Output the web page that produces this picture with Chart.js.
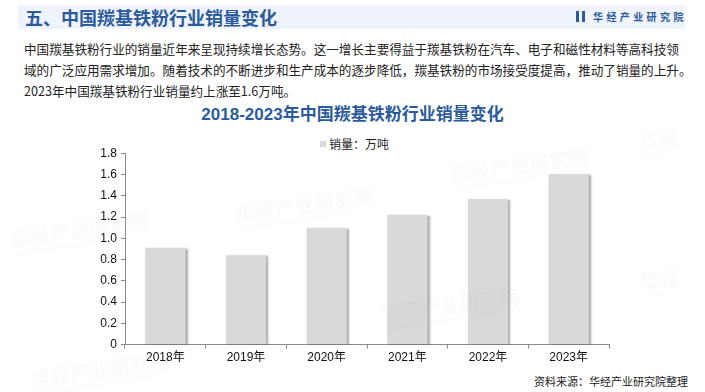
<!DOCTYPE html>
<html>
<head>
<meta charset="utf-8">
<script src="https://cdn.jsdelivr.net/npm/chart.js@4"></script>
<style>
  html, body { margin: 0; padding: 0; background: #fff; }
  body { width: 705px; height: 392px; position: relative; overflow: hidden;
         font-family: "Liberation Sans", "Noto Sans CJK SC", sans-serif; }
  .band { position: absolute; left: 18px; top: 5px; width: 667px; height: 24px; background: #eff3fb; }
  .head { position: absolute; left: 25px; top: 4px; font-size: 18px; font-weight: bold; color: #2c5b9b;
          font-family: "Noto Sans CJK SC", sans-serif; line-height: 26px; }
  .logo { position: absolute; left: 576px; top: 10px; height: 13px; }
  .logo i { position: absolute; left: 0; top: 1px; width: 3px; height: 11px; background: #2c5b9b; }
  .logo b { position: absolute; left: 6px; top: 1px; width: 3px; height: 11px; background: #2c5b9b; }
  .logo span { position: absolute; left: 17px; top: -1px; white-space: nowrap; font-size: 10px; font-weight: bold;
               color: #2c5b9b; letter-spacing: 3.4px; font-family: "Noto Sans CJK SC", sans-serif; }
  .para { position: absolute; left: 24px; top: 38px; font-size: 12.6px; line-height: 21px; color: #222;
          font-family: "Noto Sans CJK SC", sans-serif; white-space: nowrap; }
  .ctitle { position: absolute; left: 0; width: 705px; top: 103px; text-align: center; font-size: 17px;
            font-weight: bold; color: #2c5b9b; line-height: 24px; }
  .legend { position: absolute; left: 320px; top: 136px; font-size: 12px; color: #222; line-height: 16px;
            font-family: "Noto Sans CJK SC", sans-serif; white-space: nowrap; }
  .legend i { display: inline-block; width: 6px; height: 6px; background: #d9d9d9; margin-right: 3px; vertical-align: 2px; }
  .src { position: absolute; right: 17px; top: 373px; font-size: 11px; color: #222;
         font-family: "Noto Sans CJK SC", sans-serif; }
  #wrap { position: absolute; left: 0; top: 142px; width: 705px; height: 225px; }
  .wm { position: absolute; color: rgba(120, 130, 150, 0.045); font-weight: bold; font-size: 20px;
        font-family: "Noto Sans CJK SC", sans-serif; transform: rotate(-8deg); white-space: nowrap; pointer-events: none; }
  .wm small { display: block; font-size: 6px; font-weight: normal; margin-top: -4px; }
</style>
</head>
<body>
<div class="band"></div>
<div class="head">五、中国羰基铁粉行业销量变化</div>
<div class="logo"><i></i><b></b><span>华经产业研究院</span></div>
<div class="para">中国羰基铁粉行业的销量近年来呈现持续增长态势。这一增长主要得益于羰基铁粉在汽车、电子和磁性材料等高科技领<br>域的广泛应用需求增加。随着技术的不断进步和生产成本的逐步降低，羰基铁粉的市场接受度提高，推动了销量的上升。<br>2023年中国羰基铁粉行业销量约上涨至1.6万吨。</div>
<div class="ctitle">2018-2023年中国羰基铁粉行业销量变化</div>
<div class="legend"><i></i>销量：万吨</div>
<div id="wrap"><canvas id="chart"></canvas></div>
<div class="src">资料来源：华经产业研究院整理</div>

<div class="wm" style="left:10px;top:215px;">华经产业研究院<small>HUAJING INDUSTRY RESEARCH INSTITUTE</small></div>
<div class="wm" style="left:235px;top:190px;">华经产业研究院<small>HUAJING INDUSTRY RESEARCH INSTITUTE</small></div>
<div class="wm" style="left:450px;top:150px;">华经产业研究院<small>HUAJING INDUSTRY RESEARCH INSTITUTE</small></div>
<div class="wm" style="left:640px;top:125px;">华经<small>HUAJING</small></div>
<div class="wm" style="left:380px;top:290px;">华经产业研究院<small>HUAJING INDUSTRY RESEARCH INSTITUTE</small></div>
<div class="wm" style="left:30px;top:355px;">华经产业研究院<small>HUAJING INDUSTRY RESEARCH INSTITUTE</small></div>
<div class="wm" style="left:640px;top:265px;">华经<small>HUAJING</small></div>
<div class="wm" style="left:200px;top:45px;">华经产业研究院</div>

<script>
// data
const years = ['2018年', '2019年', '2020年', '2021年', '2022年', '2023年'];
const sales = [0.91, 0.84, 1.10, 1.22, 1.37, 1.60];
const yTicks = [0, 0.2, 0.4, 0.6, 0.8, 1, 1.2, 1.4, 1.6, 1.8];

const axisGrey = '#8c8c8c';

// soft shadow on the right of each bar
const barShadow = {
    id: 'barShadow',
    beforeDatasetsDraw(chart) {
        const c = chart.ctx;
        c.save();
        c.shadowColor = 'rgba(0,0,0,0.35)';
        c.shadowOffsetX = 2;
        c.shadowOffsetY = 1;
        c.shadowBlur = 2;
    },
    afterDatasetsDraw(chart) {
        chart.ctx.restore();
    }
};

const ctx = document.getElementById('chart').getContext('2d');
new Chart(ctx, {
    type: 'bar',
    data: {
        labels: years,
        datasets: [{
            label: '销量：万吨',
            data: sales,
            backgroundColor: '#d9d9d9',
            borderWidth: 0,
            categoryPercentage: 1,
            barPercentage: 0.5
        }]
    },
    options: {
        responsive: true,
        maintainAspectRatio: false,
        animation: false,
        layout: { padding: { left: 0, right: 96, top: 0, bottom: 0 } },
        plugins: {
            tooltip: { enabled: false },
            legend: { display: false }
        },
        scales: {
            x: {
                offset: true,
                grid: { display: true, drawOnChartArea: false, offset: true, color: axisGrey, tickLength: 4 },
                border: { color: axisGrey },
                ticks: { color: '#111', font: { size: 12, family: '"Liberation Sans", "Noto Sans CJK SC"' }, padding: 2 }
            },
            y: {
                min: 0,
                max: 1.8,
                afterBuildTicks(scale) {
                    scale.ticks = yTicks.map(v => ({ value: v }));
                },
                afterFit(scale) { scale.width = 125; },
                grid: { display: true, drawOnChartArea: false, color: axisGrey, tickLength: 4 },
                border: { color: axisGrey },
                ticks: { color: '#111', font: { size: 12, family: '"Liberation Sans"' }, padding: 4 }
            }
        }
    },
    plugins: [barShadow]
});
</script>
</body>
</html>
